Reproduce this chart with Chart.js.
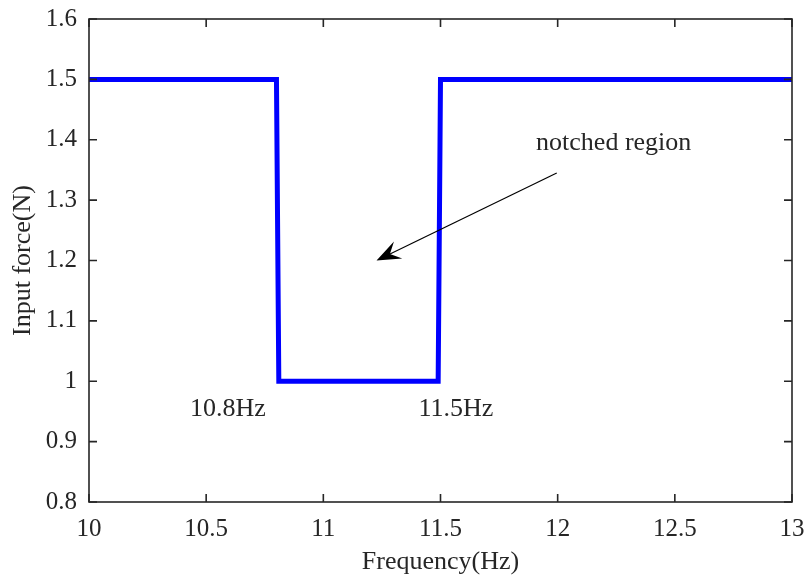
<!DOCTYPE html>
<html>
<head>
<meta charset="utf-8">
<script src="https://cdn.jsdelivr.net/npm/chart.js@4.4.1/dist/chart.umd.min.js"></script>
<style>
    html, body { margin: 0; padding: 0; background: #fff; }
    #wrap { width: 808px; height: 581px; }
</style>
</head>
<body>
<div id="wrap"><canvas id="chartForca" width="808" height="581"></canvas></div>
<script>
// dados
const frequencia = [10, 10.8, 10.81, 11.49, 11.5, 13];
const forca = [1.5, 1.5, 1.0, 1.0, 1.5, 1.5];

const ticksX = [10, 10.5, 11, 11.5, 12, 12.5, 13];
const ticksY = [0.8, 0.9, 1.0, 1.1, 1.2, 1.3, 1.4, 1.5, 1.6];

// anotacoes (coordenadas em unidades do grafico)
const textoNotch = 'notched region';
const posTextoNotch = [11.908, 1.395];
const setaInicio = [11.996, 1.345];
const setaFim = [11.227, 1.2];
const rotulosFreq = ['10.8Hz', '11.5Hz'];
const posRotulos = [[10.593, 0.953], [11.566, 0.953]];

const corTexto = '#262626';
const fonte = '"Liberation Serif", "Times New Roman", serif';

const pontos = frequencia.map((f, i) => ({ x: f, y: forca[i] }));

const molduraPlugin = {
    id: 'moldura',
    afterDatasetsDraw(chart) {
        const ctx = chart.ctx;
        const a = chart.chartArea;
        const sx = chart.scales.x;
        const sy = chart.scales.y;
        const tam = 8;

        ctx.save();
        ctx.strokeStyle = '#262626';
        ctx.lineWidth = 1.6;
        ctx.strokeRect(a.left, a.top, a.right - a.left, a.bottom - a.top);

        ctx.beginPath();
        ticksX.forEach(v => {
            const px = sx.getPixelForValue(v);
            ctx.moveTo(px, a.bottom); ctx.lineTo(px, a.bottom - tam);
            ctx.moveTo(px, a.top); ctx.lineTo(px, a.top + tam);
        });
        ticksY.forEach(v => {
            const py = sy.getPixelForValue(v);
            ctx.moveTo(a.left, py); ctx.lineTo(a.left + tam, py);
            ctx.moveTo(a.right, py); ctx.lineTo(a.right - tam, py);
        });
        ctx.stroke();

        // seta
        const x0 = sx.getPixelForValue(setaInicio[0]);
        const y0 = sy.getPixelForValue(setaInicio[1]);
        const x1 = sx.getPixelForValue(setaFim[0]);
        const y1 = sy.getPixelForValue(setaFim[1]);
        const dx = x0 - x1, dy = y0 - y1;
        const len = Math.sqrt(dx * dx + dy * dy);
        const ux = dx / len, uy = dy / len;
        const nx = -uy, ny = ux;
        const L = 24, W = 9.5;

        ctx.strokeStyle = '#000';
        ctx.lineWidth = 1.2;
        ctx.beginPath();
        ctx.moveTo(x0, y0);
        ctx.lineTo(x1 + ux * L * 0.6, y1 + uy * L * 0.6);
        ctx.stroke();

        ctx.fillStyle = '#000';
        ctx.beginPath();
        ctx.moveTo(x1, y1);
        ctx.lineTo(x1 + ux * L + nx * W, y1 + uy * L + ny * W);
        ctx.lineTo(x1 + ux * L * 0.62, y1 + uy * L * 0.62);
        ctx.lineTo(x1 + ux * L - nx * W, y1 + uy * L - ny * W);
        ctx.closePath();
        ctx.fill();

        // textos
        ctx.fillStyle = corTexto;
        ctx.textBaseline = 'middle';
        ctx.textAlign = 'left';
        ctx.font = '26px ' + fonte;
        ctx.fillText(textoNotch, sx.getPixelForValue(posTextoNotch[0]), sy.getPixelForValue(posTextoNotch[1]));

        ctx.textAlign = 'center';
        ctx.font = '26px ' + fonte;
        rotulosFreq.forEach((t, i) => {
            ctx.fillText(t, sx.getPixelForValue(posRotulos[i][0]), sy.getPixelForValue(posRotulos[i][1]));
        });
        ctx.restore();
    }
};

new Chart(document.getElementById('chartForca').getContext('2d'), {
    type: 'scatter',
    data: {
        datasets: [{
            data: pontos,
            showLine: true,
            borderColor: '#0000ff',
            borderWidth: 5,
            borderJoinStyle: 'miter',
            pointRadius: 0,
            fill: false
        }]
    },
    options: {
        responsive: false,
        animation: false,
        devicePixelRatio: 1,
        layout: { padding: { left: 0, top: 19, right: 16, bottom: 0 } },
        plugins: {
            legend: { display: false },
            tooltip: { enabled: false }
        },
        scales: {
            x: {
                type: 'linear',
                min: 10,
                max: 13,
                afterBuildTicks: s => { s.ticks = ticksX.map(v => ({ value: v })); },
                afterFit: s => { s.height = 79; s.paddingLeft = 0; s.paddingRight = 0; },
                grid: { display: false, drawTicks: false },
                border: { display: false },
                ticks: {
                    color: corTexto,
                    font: { family: fonte, size: 25 },
                    padding: 12,
                    maxRotation: 0,
                    callback: v => String(v)
                },
                title: {
                    display: true,
                    text: 'Frequency(Hz)',
                    color: corTexto,
                    font: { family: fonte, size: 26 },
                    padding: { top: 0, bottom: 3 }
                }
            },
            y: {
                type: 'linear',
                min: 0.8,
                max: 1.6,
                afterBuildTicks: s => { s.ticks = ticksY.map(v => ({ value: v })); },
                afterFit: s => { s.width = 89; s.paddingTop = 0; s.paddingBottom = 0; },
                grid: { display: false, drawTicks: false },
                border: { display: false },
                ticks: {
                    color: corTexto,
                    font: { family: fonte, size: 25 },
                    padding: 12,
                    callback: v => String(Math.round(v * 10) / 10)
                },
                title: {
                    display: true,
                    text: 'Input force(N)',
                    color: corTexto,
                    font: { family: fonte, size: 26 },
                    padding: { top: 8, bottom: 0 }
                }
            }
        }
    },
    plugins: [molduraPlugin]
});
</script>
</body>
</html>
